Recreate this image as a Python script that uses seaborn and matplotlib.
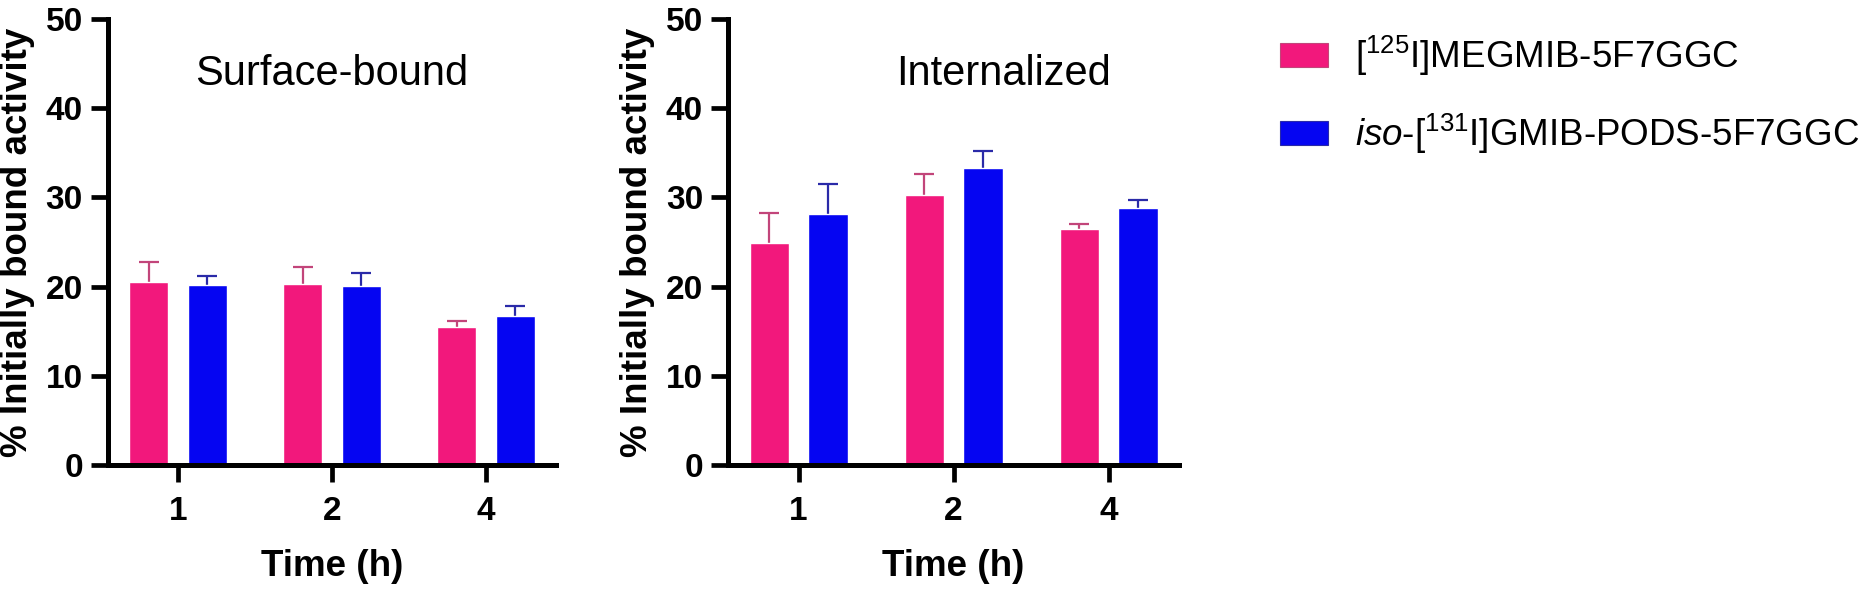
"""Surface-bound vs internalized activity of two radiolabelled 5F7GGC conjugates."""
import matplotlib
matplotlib.use("Agg")
import matplotlib.pyplot as plt
import pandas as pd
import seaborn as sns
from matplotlib.patches import Patch

TIMES = ["1", "2", "4"]
COMPOUNDS = [r"[$^{125}$I]MEGMIB-5F7GGC",
             r"$\it{iso}$-[$^{131}$I]GMIB-PODS-5F7GGC"]
PANELS = ["Surface-bound", "Internalized"]

SURF_MEGMIB = [20.5, 20.3, 15.5]
SURF_MEGMIB_SD = [2.3, 1.9, 0.7]
SURF_GMIB = [20.2, 20.1, 16.7]
SURF_GMIB_SD = [1.0, 1.4, 1.1]

INT_MEGMIB = [24.9, 30.3, 26.5]
INT_MEGMIB_SD = [3.3, 2.3, 0.5]
INT_GMIB = [28.1, 33.3, 28.8]
INT_GMIB_SD = [3.4, 1.9, 0.9]

PINK = "#F2187C"
BLUE = "#0505F2"
PINK_ERR = "#C2457A"
BLUE_ERR = "#2A2AA8"

sns.set_style("ticks")
plt.rcParams["font.family"] = ["Liberation Sans", "DejaVu Sans"]
plt.rcParams["mathtext.fontset"] = "custom"
plt.rcParams["mathtext.rm"] = "Liberation Sans"
plt.rcParams["mathtext.it"] = "Liberation Sans:italic"
plt.rcParams["mathtext.bf"] = "Liberation Sans:bold"
for key in ("text.color", "axes.labelcolor", "xtick.color", "ytick.color",
            "axes.edgecolor"):
    plt.rcParams[key] = "black"

rows = []
for panel, series in [
    ("Surface-bound", [(SURF_MEGMIB, SURF_MEGMIB_SD), (SURF_GMIB, SURF_GMIB_SD)]),
    ("Internalized", [(INT_MEGMIB, INT_MEGMIB_SD), (INT_GMIB, INT_GMIB_SD)]),
]:
    for comp, (means, sds) in zip(COMPOUNDS, series):
        for t, m, s in zip(TIMES, means, sds):
            rows.append({"panel": panel, "time": t, "compound": comp,
                         "mean": m, "sd": s})
df = pd.DataFrame(rows)

fig = plt.figure(figsize=(18.64, 5.98), dpi=100)
axes = [fig.add_axes([0.0579, 0.2224, 0.2403, 0.7458]),
        fig.add_axes([0.3906, 0.2224, 0.2420, 0.7458])]
title_x = [1.0, 1.32]

for ax, panel, tx in zip(axes, PANELS, title_x):
    sub = df[df["panel"] == panel]
    sns.barplot(data=sub, x="time", y="mean", hue="compound", order=TIMES,
                hue_order=COMPOUNDS, palette=[PINK, BLUE], saturation=1,
                width=0.76, gap=0.334, errorbar=None, legend=False, ax=ax,
                zorder=2)
    for cont, comp, ecol in zip(ax.containers, COMPOUNDS, [PINK_ERR, BLUE_ERR]):
        sds = sub[sub["compound"] == comp].set_index("time").loc[TIMES, "sd"]
        for bar, sd in zip(cont, sds):
            x = bar.get_x() + bar.get_width() / 2
            eb = ax.errorbar(x, bar.get_height(), yerr=[[0], [sd]], fmt="none",
                             ecolor=ecol, elinewidth=1.6, capsize=7,
                             capthick=1.6, zorder=1)
            eb[1][0].set_visible(False)  # no cap at the bar top
    ax.set_xlim(-0.455, 2.455)
    ax.set_ylim(0, 50)
    ax.set_yticks(range(0, 51, 10))
    sns.despine(ax=ax)
    for sp in ("left", "bottom"):
        ax.spines[sp].set_linewidth(3.6)
    ax.tick_params(axis="both", length=12, width=3.4, labelsize=24)
    ax.tick_params(axis="y", pad=6)
    ax.tick_params(axis="x", pad=10)
    for lab in ax.get_xticklabels() + ax.get_yticklabels():
        lab.set_fontweight("bold")
    ax.set_xlabel("Time (h)", fontsize=26.5, fontweight="bold", labelpad=16)
    ax.set_ylabel("% Initially bound activity", fontsize=26.5,
                  fontweight="bold", labelpad=8)
    ax.text(tx, 42.6, panel, ha="center", va="baseline", fontsize=30)

handles = [Patch(facecolor=PINK, edgecolor=PINK_ERR, linewidth=0.8),
           Patch(facecolor=BLUE, edgecolor=BLUE_ERR, linewidth=0.8)]
fig.legend(handles, COMPOUNDS, loc="upper left", bbox_to_anchor=(0.6867, 0.943),
           frameon=False, fontsize=26.5, handlelength=1.3, handleheight=0.63,
           handletextpad=0.75, labelspacing=0.9, borderpad=0, borderaxespad=0)

fig.savefig("out.png", dpi=100)
